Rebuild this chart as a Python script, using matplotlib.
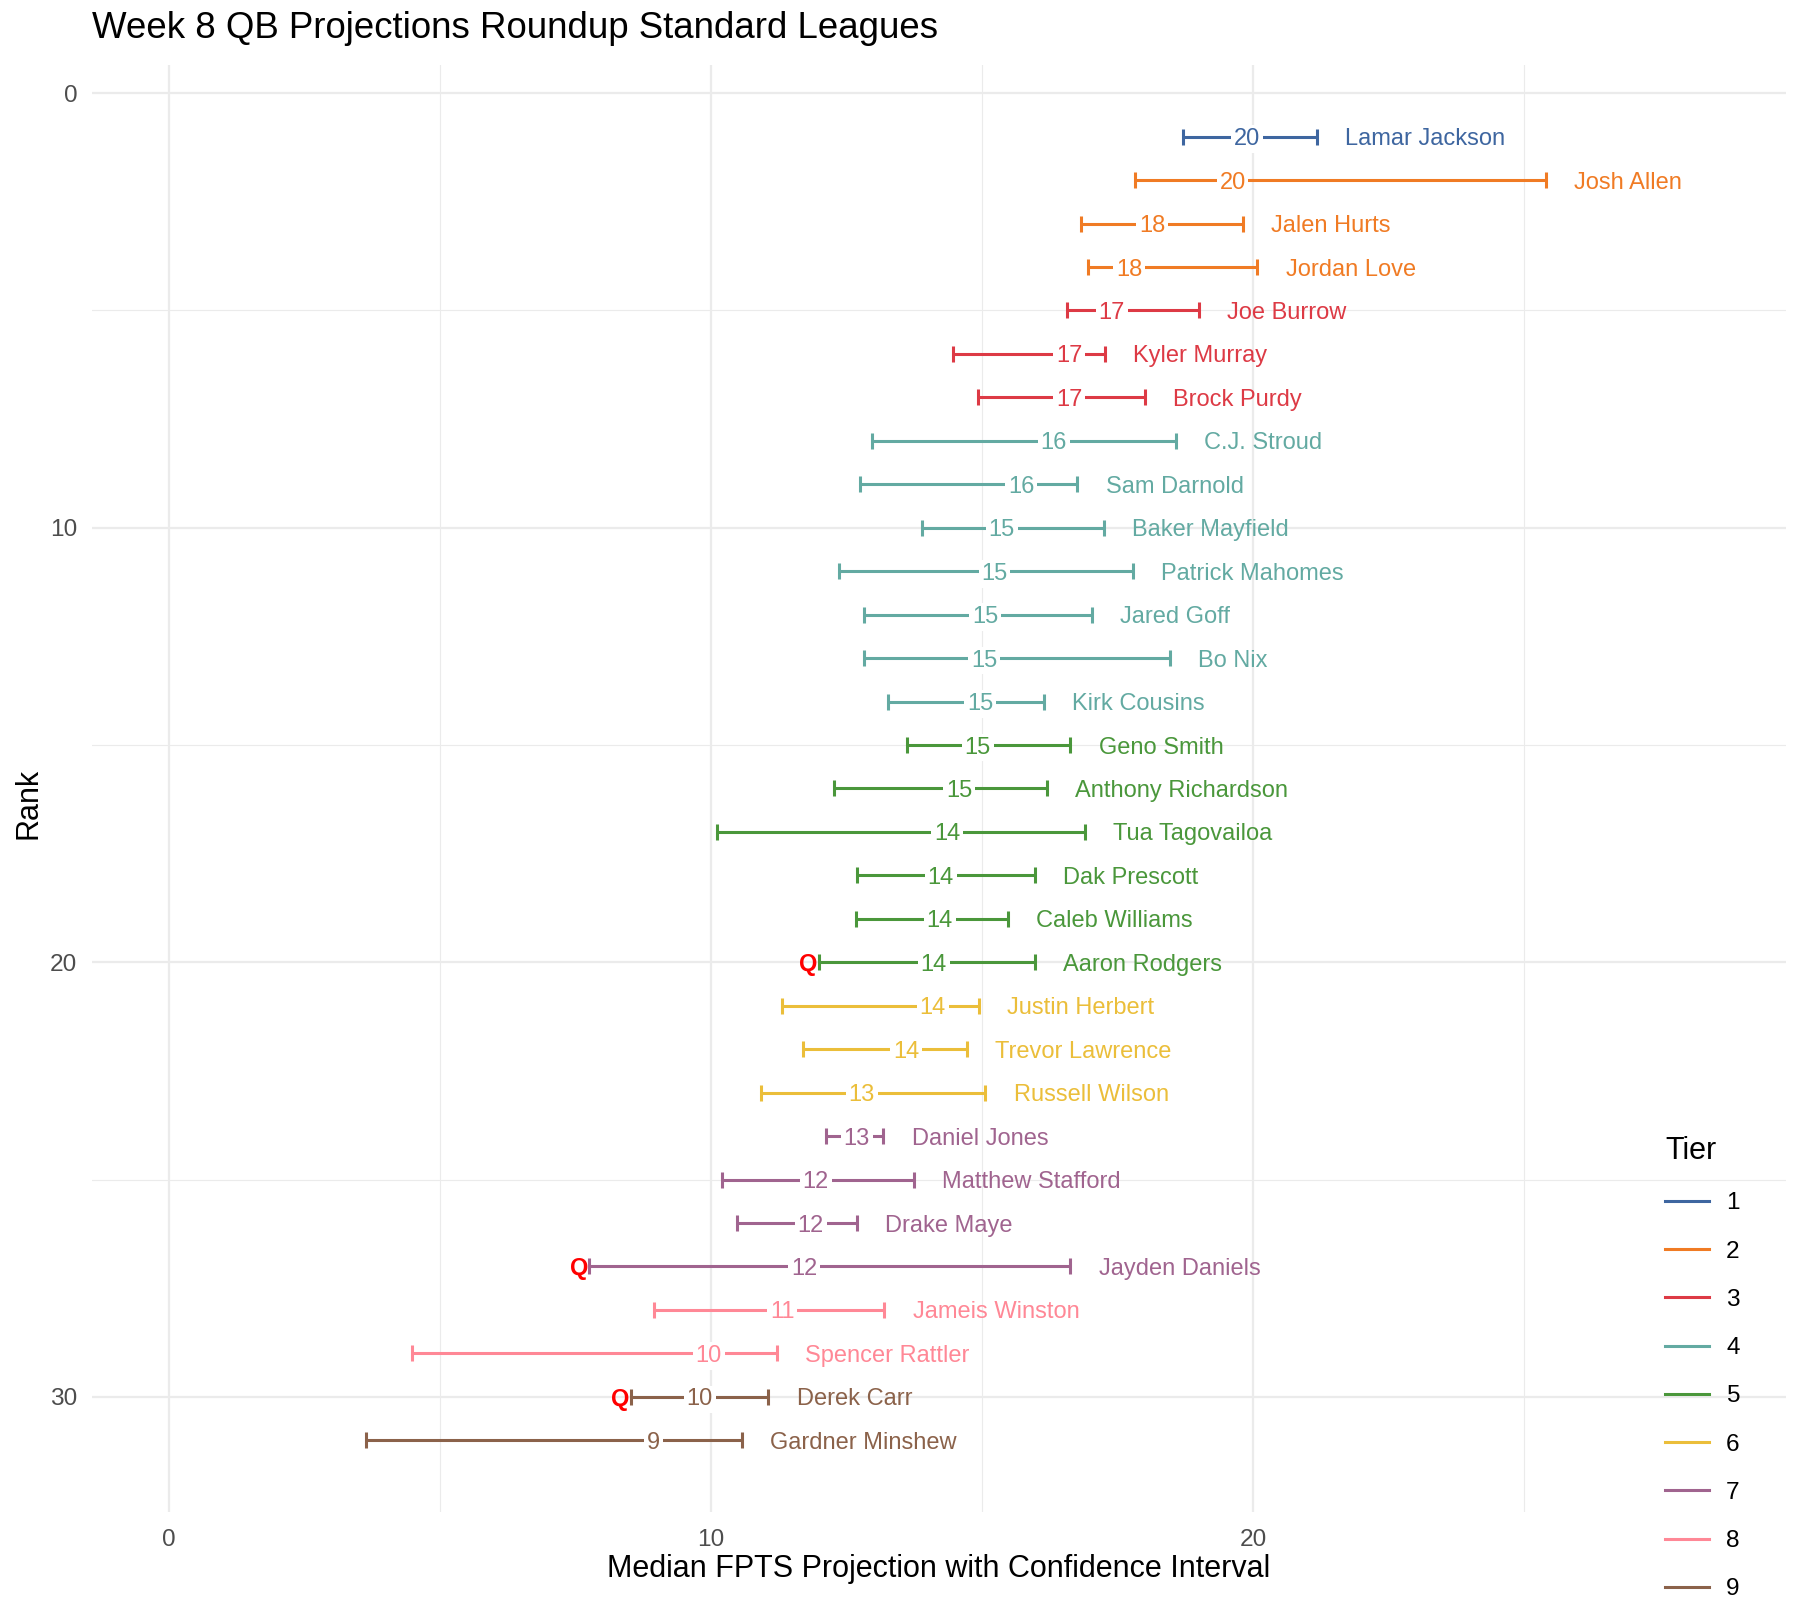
import matplotlib
matplotlib.use("Agg")
import matplotlib.pyplot as plt
from matplotlib.lines import Line2D

plt.rcParams['font.family'] = ['Liberation Sans', 'DejaVu Sans']

# ---------------- data ----------------
players = ["Lamar Jackson", "Josh Allen", "Jalen Hurts", "Jordan Love", "Joe Burrow",
           "Kyler Murray", "Brock Purdy", "C.J. Stroud", "Sam Darnold", "Baker Mayfield",
           "Patrick Mahomes", "Jared Goff", "Bo Nix", "Kirk Cousins", "Geno Smith",
           "Anthony Richardson", "Tua Tagovailoa", "Dak Prescott", "Caleb Williams",
           "Aaron Rodgers", "Justin Herbert", "Trevor Lawrence", "Russell Wilson",
           "Daniel Jones", "Matthew Stafford", "Drake Maye", "Jayden Daniels",
           "Jameis Winston", "Spencer Rattler", "Derek Carr", "Gardner Minshew"]
ranks = list(range(1, 32))
tiers = [1, 2, 2, 2, 3, 3, 3, 4, 4, 4, 4, 4, 4, 4, 5, 5, 5, 5, 5, 5,
         6, 6, 6, 7, 7, 7, 7, 8, 8, 9, 9]
low = [18.71, 17.82, 16.82, 16.95, 16.57, 14.47, 14.92, 12.97, 12.75, 13.90,
       12.37, 12.82, 12.82, 13.26, 13.62, 12.27, 10.11, 12.69, 12.67, 11.99,
       11.31, 11.69, 10.93, 12.12, 10.21, 10.47, 7.75, 8.94, 4.49, 8.52, 3.64]
median = [19.89, 19.62, 18.14, 17.71, 17.39, 16.61, 16.61, 16.32, 15.72, 15.36,
          15.23, 15.06, 15.04, 14.96, 14.92, 14.58, 14.36, 14.24, 14.22, 14.11,
          14.09, 13.60, 12.78, 12.69, 11.93, 11.84, 11.72, 11.31, 9.96, 9.79, 8.94]
high = [21.17, 25.40, 19.81, 20.08, 19.00, 17.27, 18.01, 18.58, 16.76, 17.25,
        17.78, 17.03, 18.47, 16.14, 16.63, 16.19, 16.89, 15.97, 15.47, 15.97,
        14.94, 14.72, 15.06, 13.18, 13.75, 12.69, 16.63, 13.20, 11.21, 11.06, 10.57]
questionable = [False] * 19 + [True] + [False] * 6 + [True] + [False] * 2 + [True, False]

tier_levels = [1, 2, 3, 4, 5, 6, 7, 8, 9]
tier_colors = ["#3E66A0", "#F07B24", "#DD3A45", "#63AAA2", "#4A973B",
               "#EBBE3A", "#A0648F", "#FF8896", "#8B624A"]
x_ticks = [0, 10, 20]
y_ticks = [0, 10, 20, 30]

title = "Week 8 QB Projections Roundup Standard Leagues"
x_title = "Median FPTS Projection with Confidence Interval"
y_title = "Rank"

# ---------------- figure ----------------
fig = plt.figure(figsize=(18, 16), dpi=100)
ax = fig.add_axes([0.0511, 0.055, 0.9411, 0.9044])

cmap = dict(zip(tier_levels, tier_colors))
TXT = 17

for name, r, t, lo, md, hi, q in zip(players, ranks, tiers, low, median, high, questionable):
    c = cmap[t]
    ax.errorbar(md, r, xerr=[[md - lo], [hi - md]], fmt='none', ecolor=c,
                elinewidth=2.2, capsize=5.5, capthick=2.2, zorder=2)
    ax.text(md, r, f"{md:.0f}", ha='center', va='center_baseline', color=c,
            fontsize=TXT, zorder=4,
            bbox=dict(boxstyle='square,pad=0.12', fc='white', ec='none'))
    ax.text(hi + 0.52, r, name, ha='left', va='center_baseline', color=c,
            fontsize=TXT, zorder=4)
    if q:
        ax.text(lo - 0.02, r, "Q", ha='right', va='center_baseline', color='#FF0000',
                fontsize=TXT, fontweight='bold', zorder=4)

ax.set_xlim(-1.42, 29.83)
ax.set_ylim(32.65, -0.65)

ax.set_xticks(x_ticks)
ax.set_yticks(y_ticks)
ax.set_xticks([5, 15, 25], minor=True)
ax.set_yticks([5, 15, 25], minor=True)
ax.grid(True, which='major', color='#EBEBEB', linewidth=1.6, zorder=0)
ax.grid(True, which='minor', color='#EBEBEB', linewidth=0.8, zorder=0)
ax.set_axisbelow(True)
for s in ax.spines.values():
    s.set_visible(False)
ax.tick_params(which='both', length=0)
ax.tick_params(axis='both', labelsize=17.6, labelcolor='#4D4D4D')
ax.tick_params(axis='y', pad=10.5)
ax.tick_params(axis='x', pad=12)

ax.set_xlabel(x_title, fontsize=22)
ax.xaxis.set_label_coords(0.5, -0.0394)
ax.xaxis.label.set_verticalalignment('center')
ax.set_ylabel(y_title, fontsize=22)
ax.yaxis.set_label_coords(-0.0372, 0.49)
ax.yaxis.label.set_verticalalignment('center')

fig.text(0.0511, 0.982, title, ha='left', va='center', fontsize=26.4)

handles = [Line2D([], [], color=c, lw=2.2) for c in tier_colors]
leg = fig.legend(handles, [str(t) for t in tier_levels], title="Tier",
                 loc='upper left', bbox_to_anchor=(0.925, 0.290),
                 frameon=False, alignment='left', fontsize=17.6, title_fontsize=22,
                 handlelength=1.8, handletextpad=0.7, labelspacing=1.07,
                 borderpad=0, borderaxespad=0)

fig.savefig("out.png", dpi=100)
